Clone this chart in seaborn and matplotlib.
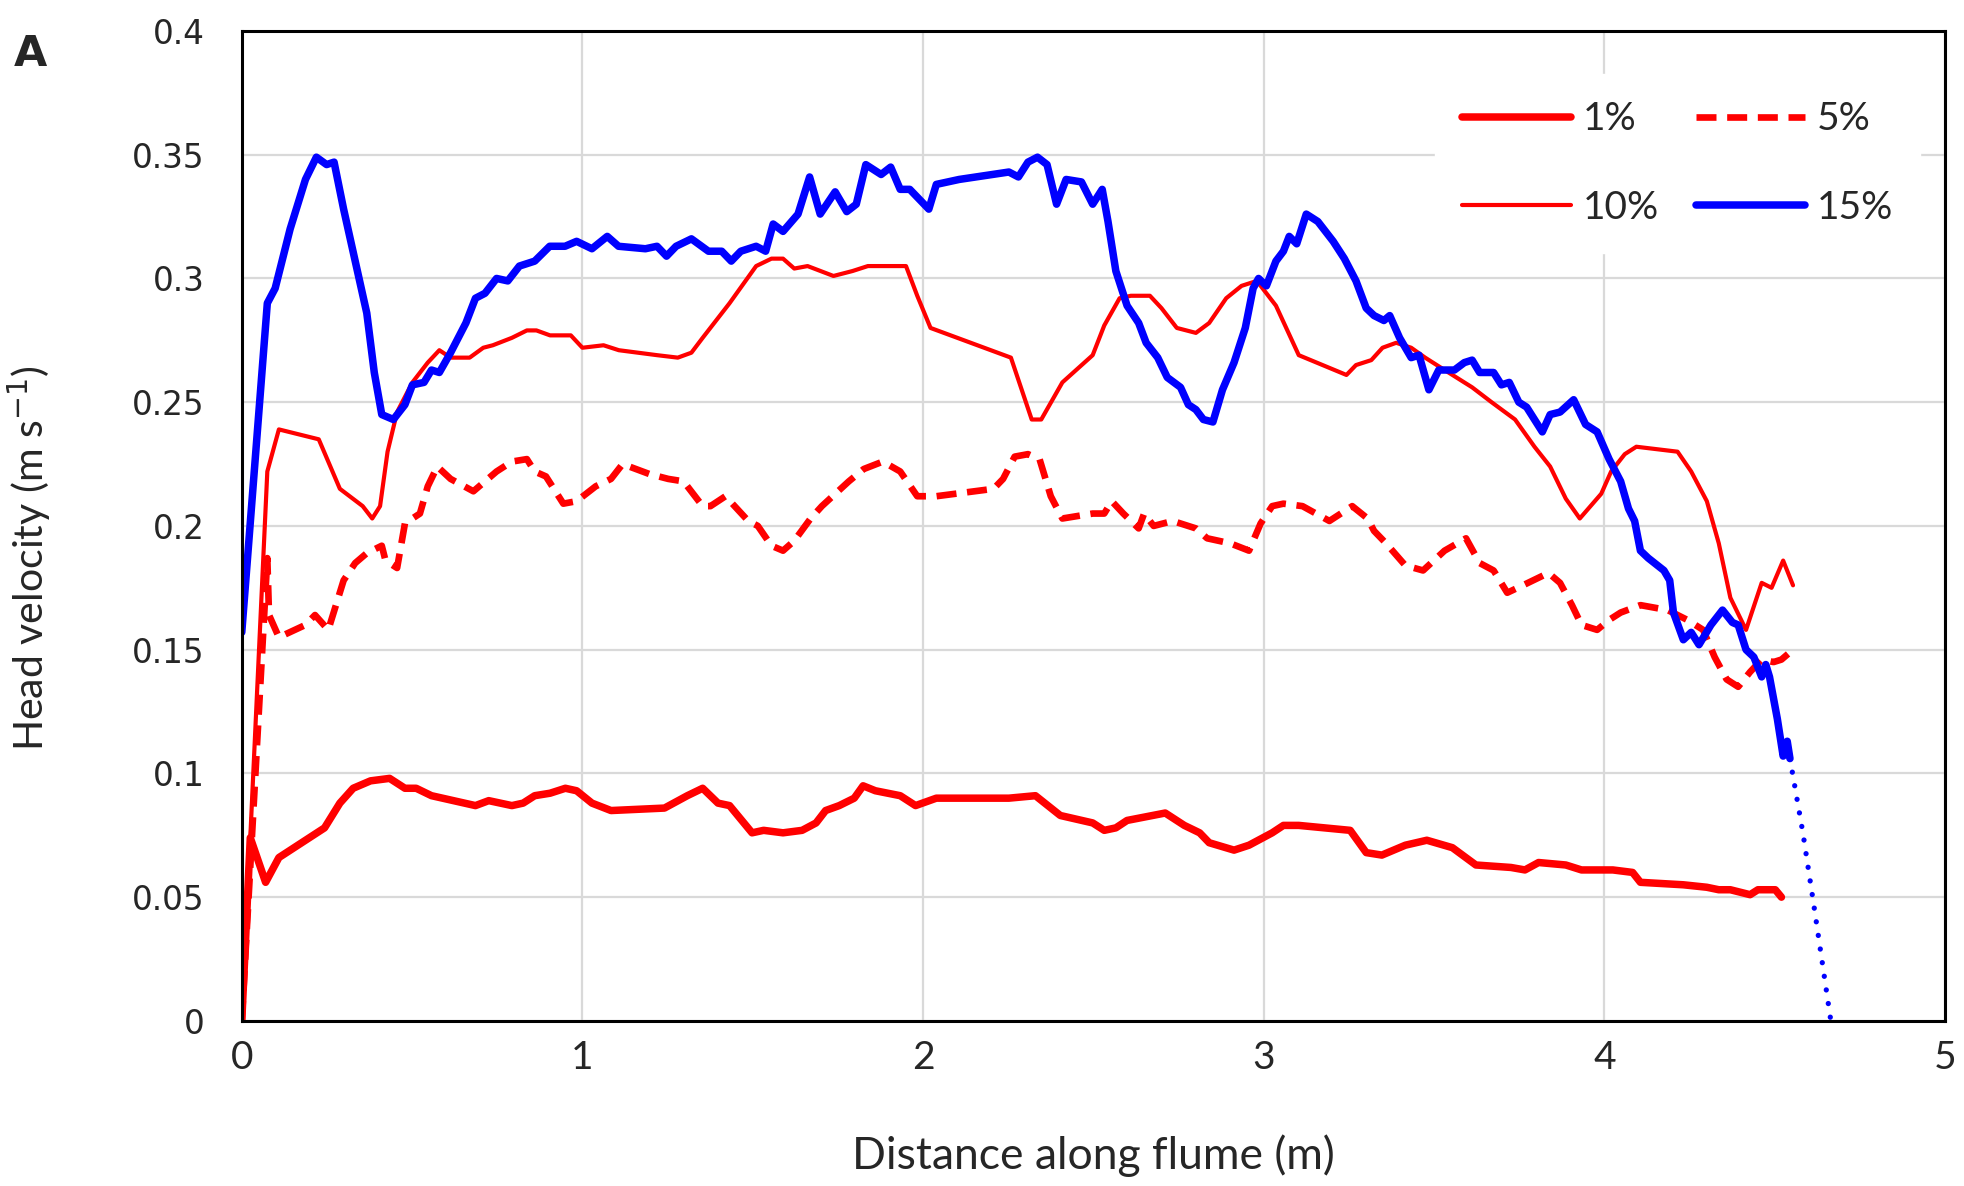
import matplotlib
matplotlib.use("Agg")
import matplotlib.pyplot as plt
from matplotlib.lines import Line2D
import seaborn as sns

# Head velocity along the flume
x_1 = [0.0, 0.025, 0.070, 0.109, 0.243, 0.288, 0.327, 0.378, 0.434, 0.479, 0.512, 0.557, 0.686, 0.725,
       0.793, 0.826, 0.860, 0.905, 0.950, 0.983, 1.028, 1.084, 1.241, 1.308, 1.353, 1.398, 1.432, 1.498,
       1.532, 1.589, 1.645, 1.686, 1.714, 1.754, 1.798, 1.824, 1.860, 1.933, 1.978, 2.039, 2.252, 2.330,
       2.403, 2.498, 2.532, 2.566, 2.599, 2.711, 2.767, 2.812, 2.840, 2.913, 2.957, 3.025, 3.058, 3.103,
       3.254, 3.301, 3.347, 3.416, 3.479, 3.554, 3.623, 3.726, 3.767, 3.807, 3.887, 3.933, 4.025, 4.083,
       4.106, 4.232, 4.301, 4.336, 4.370, 4.428, 4.451, 4.502, 4.520]
v_1 = [0.0, 0.074, 0.056, 0.066, 0.078, 0.088, 0.094, 0.097, 0.098, 0.094, 0.094, 0.091, 0.087, 0.089,
       0.087, 0.088, 0.091, 0.092, 0.094, 0.093, 0.088, 0.085, 0.086, 0.091, 0.094, 0.088, 0.087, 0.076,
       0.077, 0.076, 0.077, 0.080, 0.085, 0.087, 0.090, 0.095, 0.093, 0.091, 0.087, 0.090, 0.090, 0.091,
       0.083, 0.080, 0.077, 0.078, 0.081, 0.084, 0.079, 0.076, 0.072, 0.069, 0.071, 0.076, 0.079, 0.079,
       0.077, 0.068, 0.067, 0.071, 0.073, 0.070, 0.063, 0.062, 0.061, 0.064, 0.063, 0.061, 0.061, 0.060,
       0.056, 0.055, 0.054, 0.053, 0.053, 0.051, 0.053, 0.053, 0.050]

x_5 = [0.0, 0.075, 0.080, 0.109, 0.187, 0.215, 0.254, 0.299, 0.333, 0.367, 0.411, 0.422, 0.456, 0.479,
       0.523, 0.546, 0.574, 0.613, 0.680, 0.748, 0.793, 0.837, 0.860, 0.893, 0.944, 0.983, 1.039, 1.084,
       1.118, 1.196, 1.252, 1.297, 1.353, 1.376, 1.420, 1.487, 1.515, 1.555, 1.589, 1.622, 1.670, 1.703,
       1.782, 1.826, 1.882, 1.933, 1.983, 2.039, 2.207, 2.235, 2.269, 2.308, 2.342, 2.375, 2.409, 2.498,
       2.532, 2.554, 2.588, 2.633, 2.649, 2.677, 2.733, 2.801, 2.834, 2.901, 2.957, 2.991, 3.025, 3.058,
       3.114, 3.193, 3.260, 3.305, 3.324, 3.359, 3.416, 3.468, 3.531, 3.594, 3.634, 3.675, 3.715, 3.761,
       3.836, 3.870, 3.905, 3.933, 3.979, 4.014, 4.048, 4.106, 4.186, 4.244, 4.290, 4.324, 4.359, 4.393,
       4.428, 4.462, 4.497, 4.520, 4.554]
v_5 = [0.0, 0.187, 0.164, 0.155, 0.160, 0.164, 0.158, 0.178, 0.185, 0.189, 0.192, 0.186, 0.183, 0.201,
       0.205, 0.216, 0.224, 0.219, 0.214, 0.222, 0.226, 0.227, 0.222, 0.220, 0.209, 0.210, 0.216, 0.219,
       0.225, 0.221, 0.219, 0.218, 0.208, 0.208, 0.212, 0.202, 0.200, 0.192, 0.190, 0.194, 0.203, 0.208,
       0.218, 0.223, 0.226, 0.222, 0.212, 0.212, 0.215, 0.219, 0.228, 0.229, 0.227, 0.212, 0.203, 0.205,
       0.205, 0.210, 0.205, 0.199, 0.205, 0.200, 0.202, 0.199, 0.195, 0.193, 0.190, 0.201, 0.208, 0.209,
       0.208, 0.202, 0.208, 0.203, 0.198, 0.193, 0.184, 0.182, 0.190, 0.195, 0.185, 0.182, 0.173, 0.176,
       0.181, 0.177, 0.168, 0.160, 0.158, 0.162, 0.165, 0.168, 0.166, 0.162, 0.158, 0.147, 0.138, 0.135,
       0.141, 0.146, 0.145, 0.146, 0.150]

x_10 = [0.0, 0.075, 0.109, 0.226, 0.288, 0.355, 0.383, 0.406, 0.428, 0.456, 0.501, 0.546, 0.580, 0.613,
        0.669, 0.709, 0.737, 0.793, 0.837, 0.865, 0.905, 0.966, 1.000, 1.062, 1.107, 1.219, 1.280, 1.320,
        1.353, 1.432, 1.510, 1.555, 1.589, 1.622, 1.661, 1.737, 1.793, 1.838, 1.882, 1.950, 1.983, 2.022,
        2.258, 2.319, 2.347, 2.409, 2.498, 2.532, 2.577, 2.610, 2.666, 2.700, 2.745, 2.801, 2.840, 2.890,
        2.935, 2.980, 3.036, 3.103, 3.243, 3.271, 3.316, 3.349, 3.389, 3.433, 3.474, 3.531, 3.612, 3.669,
        3.738, 3.795, 3.841, 3.887, 3.928, 3.991, 4.020, 4.060, 4.094, 4.215, 4.255, 4.301, 4.336, 4.370,
        4.416, 4.462, 4.491, 4.525, 4.554]
v_10 = [0.0, 0.222, 0.239, 0.235, 0.215, 0.208, 0.203, 0.208, 0.230, 0.246, 0.258, 0.266, 0.271, 0.268,
        0.268, 0.272, 0.273, 0.276, 0.279, 0.279, 0.277, 0.277, 0.272, 0.273, 0.271, 0.269, 0.268, 0.270,
        0.276, 0.290, 0.305, 0.308, 0.308, 0.304, 0.305, 0.301, 0.303, 0.305, 0.305, 0.305, 0.293, 0.280,
        0.268, 0.243, 0.243, 0.258, 0.269, 0.281, 0.292, 0.293, 0.293, 0.288, 0.280, 0.278, 0.282, 0.292,
        0.297, 0.299, 0.289, 0.269, 0.261, 0.265, 0.267, 0.272, 0.274, 0.272, 0.268, 0.263, 0.256, 0.250,
        0.243, 0.232, 0.224, 0.211, 0.203, 0.213, 0.222, 0.229, 0.232, 0.230, 0.222, 0.210, 0.193, 0.171,
        0.158, 0.177, 0.175, 0.186, 0.176]

x_15 = [0.0, 0.075, 0.098, 0.142, 0.187, 0.219, 0.249, 0.271, 0.299, 0.333, 0.367, 0.389, 0.411, 0.445,
        0.479, 0.501, 0.535, 0.557, 0.580, 0.613, 0.658, 0.686, 0.714, 0.748, 0.781, 0.815, 0.860, 0.904,
        0.949, 0.983, 1.028, 1.073, 1.106, 1.185, 1.219, 1.247, 1.275, 1.320, 1.370, 1.409, 1.437, 1.465,
        1.510, 1.538, 1.560, 1.589, 1.633, 1.667, 1.698, 1.742, 1.776, 1.804, 1.832, 1.877, 1.905, 1.933,
        1.961, 2.017, 2.039, 2.106, 2.252, 2.280, 2.308, 2.336, 2.364, 2.392, 2.420, 2.465, 2.498, 2.526,
        2.543, 2.566, 2.599, 2.633, 2.655, 2.689, 2.717, 2.756, 2.779, 2.801, 2.823, 2.851, 2.879, 2.913,
        2.946, 2.969, 2.985, 3.008, 3.036, 3.058, 3.075, 3.097, 3.125, 3.159, 3.204, 3.237, 3.271, 3.301,
        3.324, 3.353, 3.370, 3.399, 3.433, 3.456, 3.485, 3.514, 3.560, 3.589, 3.612, 3.634, 3.675, 3.698,
        3.721, 3.749, 3.772, 3.818, 3.841, 3.870, 3.910, 3.945, 3.979, 4.014, 4.048, 4.071, 4.089, 4.106,
        4.129, 4.175, 4.192, 4.203, 4.232, 4.255, 4.278, 4.313, 4.347, 4.376, 4.393, 4.416, 4.439, 4.462,
        4.474, 4.485, 4.508, 4.525, 4.537, 4.545]
v_15 = [0.157, 0.290, 0.296, 0.320, 0.340, 0.349, 0.346, 0.347, 0.328, 0.307, 0.286, 0.262, 0.245, 0.243,
        0.249, 0.257, 0.258, 0.263, 0.262, 0.270, 0.282, 0.292, 0.294, 0.300, 0.299, 0.305, 0.307, 0.313,
        0.313, 0.315, 0.312, 0.317, 0.313, 0.312, 0.313, 0.309, 0.313, 0.316, 0.311, 0.311, 0.307, 0.311,
        0.313, 0.311, 0.322, 0.319, 0.326, 0.341, 0.326, 0.335, 0.327, 0.330, 0.346, 0.342, 0.345, 0.336,
        0.336, 0.328, 0.338, 0.340, 0.343, 0.341, 0.347, 0.349, 0.346, 0.330, 0.340, 0.339, 0.330, 0.336,
        0.323, 0.303, 0.289, 0.282, 0.274, 0.268, 0.260, 0.256, 0.249, 0.247, 0.243, 0.242, 0.255, 0.266,
        0.280, 0.296, 0.300, 0.297, 0.307, 0.311, 0.317, 0.314, 0.326, 0.323, 0.315, 0.308, 0.299, 0.288,
        0.285, 0.283, 0.285, 0.276, 0.268, 0.269, 0.255, 0.263, 0.263, 0.266, 0.267, 0.262, 0.262, 0.257,
        0.258, 0.250, 0.248, 0.238, 0.245, 0.246, 0.251, 0.241, 0.238, 0.227, 0.218, 0.207, 0.202, 0.190,
        0.187, 0.182, 0.178, 0.165, 0.154, 0.157, 0.152, 0.160, 0.166, 0.161, 0.160, 0.150, 0.147, 0.139,
        0.144, 0.139, 0.122, 0.107, 0.113, 0.106]

# extrapolated end of the 15% run (dotted)
x_15_tail = [4.545, 4.583, 4.617, 4.665]
v_15_tail = [0.106, 0.076, 0.045, 0.0]

x_ticks = [0, 1, 2, 3, 4, 5]
y_ticks = [0, 0.05, 0.1, 0.15, 0.2, 0.25, 0.3, 0.35, 0.4]
y_tick_labels = ["0", "0.05", "0.1", "0.15", "0.2", "0.25", "0.3", "0.35", "0.4"]
labels = ["1%", "5%", "10%", "15%"]

sns.set_style("white")
body = ["Lato", "DejaVu Sans"]

fig = plt.figure(figsize=(19.64, 11.86), dpi=100)
ax = fig.add_axes([0.1231, 0.1392, 0.8672, 0.8347])

red = "#ff0000"
blue = "#0000ff"
dash = (0, (3.0, 1.6))

sns.lineplot(x=x_1, y=v_1, ax=ax, color=red, lw=5.4, sort=False, estimator=None)
sns.lineplot(x=x_5, y=v_5, ax=ax, color=red, lw=4.8, sort=False, estimator=None, linestyle=dash)
sns.lineplot(x=x_10, y=v_10, ax=ax, color=red, lw=3.0, sort=False, estimator=None)
sns.lineplot(x=x_15, y=v_15, ax=ax, color=blue, lw=5.4, sort=False, estimator=None)
tail = sns.lineplot(x=x_15_tail, y=v_15_tail, ax=ax, color=blue, lw=3.8, sort=False, estimator=None)
tail.lines[-1].set_linestyle((0, (0.01, 2.6)))
tail.lines[-1].set_dash_capstyle("round")

ax.set_xlim(0, 5)
ax.set_ylim(0, 0.4)
ax.set_xticks(x_ticks)
ax.set_xticklabels([str(t) for t in x_ticks], fontfamily=body, fontsize=28)
ax.set_yticks(y_ticks)
ax.set_yticklabels(y_tick_labels, fontfamily="DejaVu Sans", fontsize=23.5)
ax.tick_params(axis="x", length=0, pad=14)
ax.tick_params(axis="y", length=0, pad=26.5)
ax.grid(True, color="#d9d9d9", lw=1.6)
ax.set_axisbelow(True)
for s in ax.spines.values():
    s.set_color("black")
    s.set_linewidth(2.2)

ax.set_xlabel("Distance along flume (m)", fontfamily=body, fontsize=32, labelpad=42)
ax.set_ylabel("Head velocity (m s$^{-1}$)", fontfamily=body, fontsize=29.5)
ax.yaxis.set_label_coords(-0.111, 0.468)

handles = [
    Line2D([], [], color=red, lw=5.4),
    Line2D([], [], color=red, lw=3.0),
    Line2D([], [], color=red, lw=4.8, linestyle=dash),
    Line2D([], [], color=blue, lw=5.4),
]
leg = ax.legend(handles, [labels[0], labels[2], labels[1], labels[3]], ncol=2,
                loc="center", bbox_to_anchor=(0.843, 0.866), frameon=True,
                prop={"family": body, "size": 28}, handlelength=2.8,
                handletextpad=0.3, columnspacing=0.95, labelspacing=1.35,
                borderpad=0.7, fancybox=False)
leg.get_frame().set_facecolor("white")
leg.get_frame().set_edgecolor("white")
leg.get_frame().set_alpha(1)

fig.text(0.007, 0.972, "A", fontsize=31, fontweight="bold", fontfamily="DejaVu Sans", va="top")

fig.savefig("out.png", dpi=100)
